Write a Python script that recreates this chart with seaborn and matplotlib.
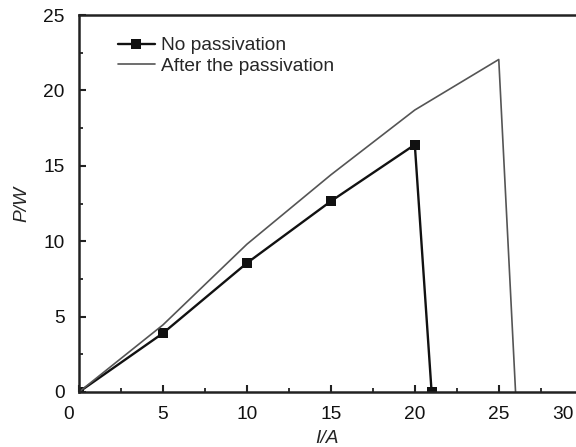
import numpy as np
import pandas as pd
import matplotlib
matplotlib.use("Agg")
import matplotlib.pyplot as plt
import matplotlib.transforms as mtransforms
from matplotlib.ticker import MultipleLocator
import seaborn as sns

# Output power versus current, before and after passivation
current_no_pass = [0, 5, 10, 15, 20, 21]
power_no_pass = [0, 3.9, 8.55, 12.65, 16.4, 0]

current_pass = [0, 5, 10, 15, 20, 25, 26]
power_pass = [0, 4.45, 9.8, 14.4, 18.7, 22.05, 0]

series_names = ["No passivation", "After the passivation"]
x_ticks = [0, 5, 10, 15, 20, 25]
y_ticks = [0, 5, 10, 15, 20, 25]

sns.set_theme(style="ticks")
plt.rcParams["font.family"] = ["Liberation Sans", "DejaVu Sans"]
FS = 13.8

df_no = pd.DataFrame({"I": current_no_pass, "P": power_no_pass})
df_pa = pd.DataFrame({"I": current_pass, "P": power_pass})

fig = plt.figure(figsize=(5.76, 4.47), dpi=100)
ax = fig.add_axes([79 / 576, 1 - 392 / 447, 1 - 79 / 576, (392 - 15) / 447])

sns.lineplot(data=df_no, x="I", y="P", sort=False, ax=ax, color="#111111",
             linewidth=1.7, marker="s", markersize=7, markeredgewidth=0,
             label=series_names[0])
sns.lineplot(data=df_pa, x="I", y="P", sort=False, ax=ax, color="#555555",
             linewidth=1.2, label=series_names[1])

ax.set_xlim(0, 29.6)
ax.set_ylim(0, 25)
ax.set_xticks(x_ticks)
ax.set_yticks(y_ticks)
ax.xaxis.set_minor_locator(MultipleLocator(2.5))
ax.yaxis.set_minor_locator(MultipleLocator(2.5))

for side in ["left", "bottom", "top"]:
    ax.spines[side].set_linewidth(1.8)
    ax.spines[side].set_color("#222222")
ax.spines["right"].set_visible(False)

ax.tick_params(axis="both", which="major", direction="in", length=5, width=1.5,
               colors="#222222", labelcolor="#111111", labelsize=FS)
ax.tick_params(axis="both", which="minor", direction="in", length=3, width=1.3,
               colors="#222222")
ax.tick_params(axis="x", which="major", pad=10)
ax.tick_params(axis="y", which="major", pad=10.5)
ax.tick_params(top=False, right=False, which="both")

# nudge the "0" label on the current axis, then add the "30" label at the edge
labels = ax.get_xticklabels()
labels[0].set_transform(labels[0].get_transform() +
                        mtransforms.ScaledTranslation(-10 / 100, 0, fig.dpi_scale_trans))
ax.annotate("30", xy=(28.8, 0), xycoords=("data", "axes fraction"),
            xytext=(0, -10), textcoords="offset points", ha="center",
            va="top", fontsize=FS, color="#111111", annotation_clip=False)

ax.set_xlabel("I/A", fontsize=FS, fontstyle="italic", labelpad=5)
ax.set_ylabel("P/W", fontsize=FS, fontstyle="italic", labelpad=9)

leg = ax.legend(loc="upper left", bbox_to_anchor=(0.078, 0.942), frameon=False,
                fontsize=FS, handlelength=1.95, handletextpad=0.3,
                labelspacing=0.15, borderpad=0, borderaxespad=0)

fig.savefig("out.png", dpi=100)
